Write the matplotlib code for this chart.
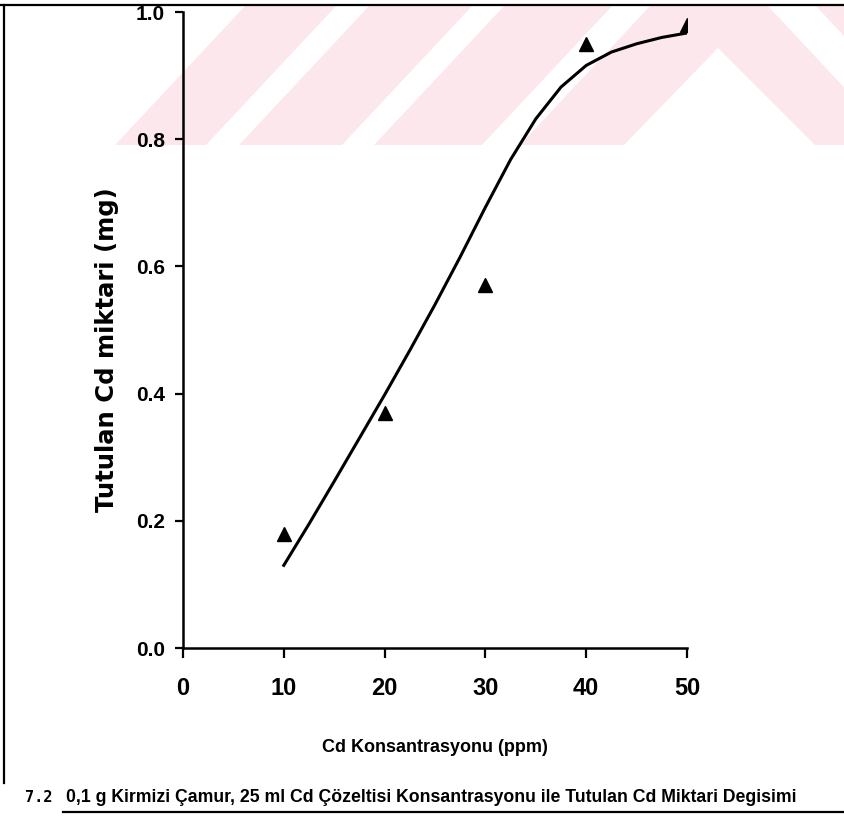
import matplotlib
matplotlib.use("Agg")
import matplotlib.pyplot as plt
from matplotlib.patches import Polygon
from matplotlib.lines import Line2D

# measured points (Cd concentration vs retained Cd)
conc = [10, 20, 30, 40, 50]
retained = [0.18, 0.37, 0.57, 0.95, 0.98]

# fitted curve
fit_x = [10, 12.5, 15, 17.5, 20, 22.5, 25, 27.5, 30, 32.5, 35, 37.5, 40, 42.5, 45, 47.5, 50]
fit_y = [0.13, 0.195, 0.262, 0.330, 0.398, 0.468, 0.540, 0.615, 0.693, 0.768, 0.832, 0.882,
         0.916, 0.937, 0.950, 0.960, 0.967]

x_ticks = [0, 10, 20, 30, 40, 50]
y_ticks = [0.0, 0.2, 0.4, 0.6, 0.8, 1.0]

xlabel = "Cd Konsantrasyonu (ppm)"
ylabel = "Tutulan Cd miktari (mg)"
fig_no = "7.2"
caption = "0,1 g Kirmizi Çamur, 25 ml Cd Çözeltisi Konsantrasyonu ile Tutulan Cd Miktari Degisimi"

bold = dict(family="Liberation Sans", weight="bold")

W, H = 844, 817
fig = plt.figure(figsize=(W / 100, H / 100), dpi=100)


def fp(x, y):
    # pixel (top-left origin) -> figure fraction
    return (x / W, 1 - y / H)


# pink watermark stripes at the top
pink = "#fce8ec"
s = 131 / 140
y0, y1 = 5, 145
shapes = []
for a, b in [(115, 206), (239, 342), (374, 482)]:
    shapes.append([(a, y1), (b, y1), (b + s * (y1 - y0), y0), (a + s * (y1 - y0), y0)])
shapes.append([(520, 145), (651, 5), (767, 5), (898, 145), (815, 145), (718, 48), (624, 145)])
shapes.append([(815, 5), (960, 5), (960, 145), (946, 145)])
for pts in shapes:
    fig.patches.append(Polygon([fp(*p) for p in pts], closed=True, transform=fig.transFigure,
                               facecolor=pink, edgecolor="none", zorder=-1))

# page frame lines from the scan
fig.lines.append(Line2D([0, 1], [1 - 5 / H, 1 - 5 / H], transform=fig.transFigure, color="black", lw=1.6))
fig.lines.append(Line2D([4 / W, 4 / W], [1 - 5 / H, 1 - 783 / H], transform=fig.transFigure, color="black", lw=1.6))

ax = fig.add_axes([183 / W, 1 - 648 / H, 504 / W, 636 / H])
ax.set_facecolor("none")

ax.plot(fit_x, fit_y, color="black", lw=2.2, zorder=3)
ax.plot(conc, retained, linestyle="none", marker="^", markersize=10, color="black", zorder=4)

ax.set_xlim(0, 50)
ax.set_ylim(0, 1.0)
ax.set_xticks(x_ticks)
ax.set_yticks(y_ticks)
ax.set_xticklabels([str(t) for t in x_ticks], fontsize=17, **bold)
ax.set_yticklabels([f"{t:.1f}" for t in y_ticks], fontsize=15, **bold)
ax.tick_params(axis="x", direction="out", length=7, width=1.6, pad=14)
ax.tick_params(axis="y", direction="out", length=6, width=1.6, pad=7)

for side in ["top", "right"]:
    ax.spines[side].set_visible(False)
for side in ["left", "bottom"]:
    ax.spines[side].set_linewidth(1.8)

fig.text(*fp(435, 748), xlabel, ha="center", va="center", fontsize=13, **bold)
fig.text(*fp(107, 350), ylabel, ha="center", va="center", rotation=90, fontsize=17.5,
         family="DejaVu Sans", weight="bold")

fig.text(*fp(25, 798), fig_no, ha="left", va="center", fontsize=11, family="DejaVu Sans Mono",
         weight="bold")
fig.text(*fp(66, 797), caption, ha="left", va="center", fontsize=12.7, **bold)
fig.lines.append(Line2D([63 / W, 1], [1 - 812 / H, 1 - 812 / H], transform=fig.transFigure, color="black", lw=1.6))

fig.savefig("out.png", dpi=100)
